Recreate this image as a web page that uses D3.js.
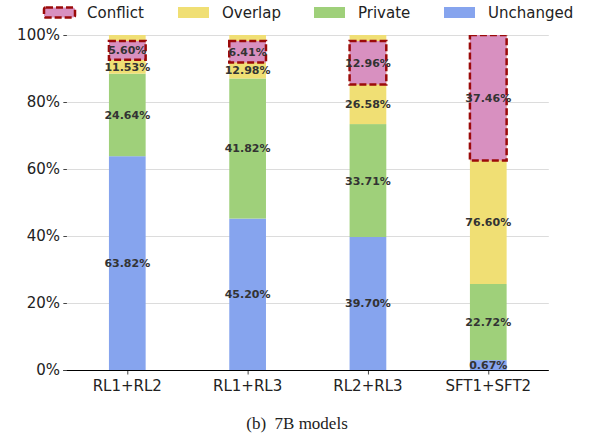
<!DOCTYPE html>
<html>
<head>
<meta charset="utf-8">
<script src="https://cdn.jsdelivr.net/npm/d3@7"></script>
<style>
  html, body { margin: 0; padding: 0; background: #fff; }
  svg { display: block; }
</style>
</head>
<body>
<svg id="chart" width="590" height="440"></svg>
<script>
// ---- data (percent) ----
const categories = ["RL1+RL2", "RL1+RL3", "RL2+RL3", "SFT1+SFT2"];
const unchanged = [63.82, 45.20, 39.70, 0.67];
const privateVals = [24.64, 41.82, 33.71, 22.72];
const overlap = [11.53, 12.98, 26.58, 76.60];
const conflict = [5.60, 6.41, 12.96, 37.46];
const yTicks = [0, 20, 40, 60, 80, 100];
const seriesNames = ["Conflict", "Overlap", "Private", "Unchanged"];
const caption = "(b)  7B models";

// ---- style ----
const colors = { Unchanged: "#86a4ee", Private: "#9fd07a", Overlap: "#f0df74", Conflict: "#d890c0" };
const conflictStroke = "#9b0a0a";
const minShown = 2.95;   // smallest visible segment height (percent units)
const conflictGap = 1.8; // gap between conflict box and bar top (percent units)

const svg = d3.select("#chart");
const x = d3.scaleLinear().domain([-0.531, 3.503]).range([63.4, 548.8]);
const y = d3.scaleLinear().domain([0, 100]).range([370, 35]);
const barW = 0.305;
const plotL = 63.4, plotR = 548.8;

// clip
svg.append("defs").append("clipPath").attr("id", "plotclip")
  .append("rect").attr("x", plotL).attr("y", y(100)).attr("width", plotR - plotL).attr("height", y(0) - y(100));

// grid
svg.append("g").selectAll("line").data(yTicks).join("line")
  .attr("x1", plotL).attr("x2", plotR)
  .attr("y1", d => y(d) + 0.5).attr("y2", d => y(d) + 0.5)
  .attr("stroke", "#dcdcdc").attr("stroke-width", 1);

// stack data
const rows = categories.map((c, i) => {
  const u = Math.max(unchanged[i], minShown);
  const p = privateVals[i];
  const o = overlap[i];
  const top = u + p + o;
  const cTop = Math.min(100, top - conflictGap);
  const cBot = cTop - conflict[i];
  return { c, i, u, p, o, top, cTop, cBot };
});

const gBars = svg.append("g").attr("clip-path", "url(#plotclip)");
rows.forEach(r => {
  const segs = [
    { name: "Unchanged", y0: 0, y1: r.u },
    { name: "Private", y0: r.u, y1: r.u + r.p },
    { name: "Overlap", y0: r.u + r.p, y1: r.top },
  ];
  segs.forEach(s => {
    gBars.append("rect")
      .attr("x", x(r.i - barW / 2)).attr("width", x(barW) - x(0))
      .attr("y", y(s.y1)).attr("height", y(s.y0) - y(s.y1))
      .attr("fill", colors[s.name]);
  });
  gBars.append("rect")
    .attr("x", x(r.i - barW / 2)).attr("width", x(barW) - x(0))
    .attr("y", y(r.cTop)).attr("height", y(r.cBot) - y(r.cTop))
    .attr("fill", colors.Conflict)
    .attr("stroke", conflictStroke).attr("stroke-width", 2.5)
    .attr("stroke-dasharray", "7,3");
});

// labels
const fmt = v => v.toFixed(2) + "%";
const gLab = svg.append("g")
  .attr("font-family", "DejaVu Sans, sans-serif").attr("font-weight", "bold")
  .attr("font-size", 11).attr("fill", "#333").attr("text-anchor", "middle");
rows.forEach(r => {
  const labs = [
    { v: unchanged[r.i], at: r.u / 2 },
    { v: privateVals[r.i], at: r.u + r.p / 2 },
    { v: overlap[r.i], at: (r.u + r.p + r.cBot) / 2 },
    { v: conflict[r.i], at: (r.cTop + r.cBot) / 2 },
  ];
  labs.forEach(l => {
    gLab.append("text").attr("x", x(r.i)).attr("y", y(l.at))
      .attr("dy", "0.36em").text(fmt(l.v));
  });
});

// bottom spine
svg.append("line").attr("x1", plotL).attr("x2", plotR)
  .attr("y1", y(0) + 0.5).attr("y2", y(0) + 0.5)
  .attr("stroke", "#000").attr("stroke-width", 1.1);

// y axis ticks + labels
const gy = svg.append("g").attr("font-family", "DejaVu Sans, sans-serif").attr("font-size", 15).attr("fill", "#222");
yTicks.forEach(t => {
  gy.append("line").attr("x1", plotL).attr("x2", plotL + 3.5)
    .attr("y1", y(t) + 0.5).attr("y2", y(t) + 0.5).attr("stroke", "#444").attr("stroke-width", 1);
  gy.append("text").attr("x", 60).attr("y", y(t)).attr("dy", "0.36em")
    .attr("text-anchor", "end").text(t + "%");
});

// x axis ticks + labels
const gx = svg.append("g").attr("font-family", "DejaVu Sans, sans-serif").attr("font-size", 15).attr("fill", "#222");
categories.forEach((c, i) => {
  gx.append("line").attr("x1", x(i) + 0.5).attr("x2", x(i) + 0.5)
    .attr("y1", y(0) + 1).attr("y2", y(0) + 4.5).attr("stroke", "#444");
  gx.append("text").attr("x", x(i)).attr("y", 391).attr("text-anchor", "middle").text(c);
});

// legend
const legX = [43, 178, 314, 444];
const gLeg = svg.append("g").attr("font-family", "DejaVu Sans, sans-serif").attr("font-size", 15).attr("fill", "#222");
seriesNames.forEach((n, k) => {
  const lx = legX[k];
  if (n === "Conflict") {
    gLeg.append("rect").attr("x", lx + 1).attr("y", 7.5).attr("width", 31).attr("height", 10)
      .attr("rx", 2).attr("fill", colors[n]).attr("stroke", conflictStroke)
      .attr("stroke-width", 2.5).attr("stroke-dasharray", "7,3");
  } else {
    gLeg.append("rect").attr("x", lx).attr("y", 7).attr("width", 31).attr("height", 11)
      .attr("fill", colors[n]);
  }
  gLeg.append("text").attr("x", lx + 44).attr("y", 12.5).attr("dy", "0.36em").text(n);
});

// caption
svg.append("text").attr("x", 297).attr("y", 429).attr("text-anchor", "middle")
  .attr("font-family", "Liberation Serif, DejaVu Serif, serif").attr("font-size", 17)
  .attr("fill", "#222").attr("xml:space", "preserve").style("white-space", "pre").text(caption);
</script>
</body>
</html>
